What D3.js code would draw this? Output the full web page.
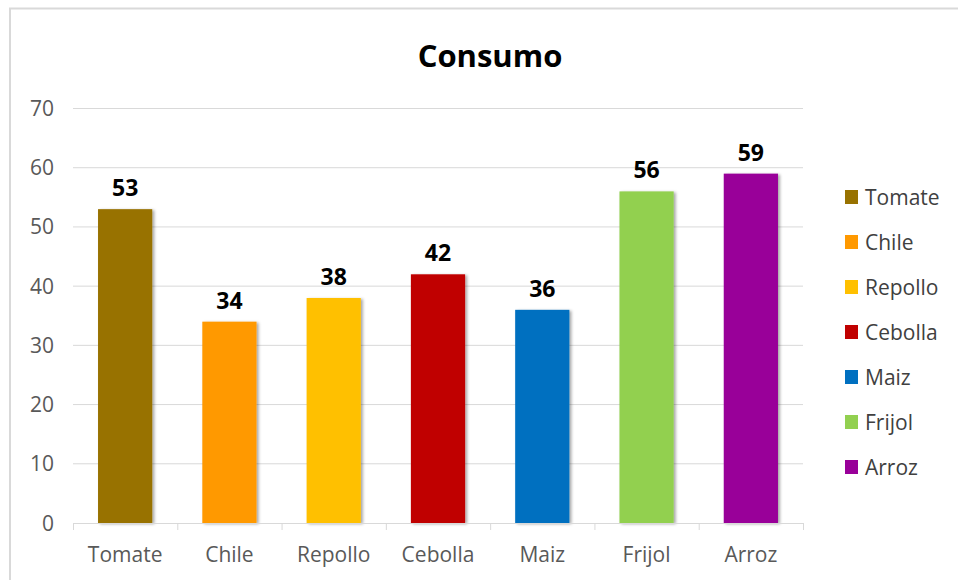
<!DOCTYPE html>
<html><head><meta charset="utf-8">
<script src="https://cdn.jsdelivr.net/npm/d3@7"></script>
<style>body{margin:0;background:#fff;}svg{display:block;}</style>
</head><body><svg id="c" width="958" height="580"></svg>
<script>
const categories = ["Tomate","Chile","Repollo","Cebolla","Maiz","Frijol","Arroz"];
const values = [53,34,38,42,36,56,59];
const colors = ["#987200","#FF9900","#FFC000","#C00000","#0070C0","#92D050","#990099"];
const yTicks = [0,10,20,30,40,50,60,70];
const title = "Consumo";

const svg = d3.select("#c");
const font = "'Open Sans', sans-serif";
const defs = svg.append("defs");
const f = defs.append("filter").attr("id","sh").attr("x","-20%").attr("y","-10%").attr("width","150%").attr("height","130%");
f.append("feDropShadow").attr("dx",2).attr("dy",1).attr("stdDeviation",1.5).attr("flood-color","#000").attr("flood-opacity",0.35);

// border
svg.append("rect").attr("x",10).attr("y",8.5).attr("width",960).attr("height",600)
  .attr("fill","#fff").attr("stroke","#d9d9d9").attr("stroke-width",2);

const x = d3.scaleBand().domain(categories).range([73,803]).paddingInner(0.48).paddingOuter(0.24);
const y = d3.scaleLinear().domain([0,70]).range([523,108.5]);

// gridlines
svg.append("g").selectAll("line").data(yTicks.slice(1)).join("line")
  .attr("x1",73).attr("x2",803).attr("y1",d=>y(d)).attr("y2",d=>y(d))
  .attr("stroke","#d9d9d9").attr("stroke-width",1);

// y labels
svg.append("g").selectAll("text").data(yTicks).join("text")
  .attr("x",54).attr("y",d=>y(d)).attr("dy","0.36em").attr("text-anchor","end")
  .attr("font-family",font).attr("font-size",21).attr("fill","#595959").text(d=>d);

// bars
svg.append("g").selectAll("rect").data(values).join("rect")
  .attr("x",(d,i)=>x(categories[i])).attr("width",x.bandwidth())
  .attr("y",d=>y(d)).attr("height",d=>y(0)-y(d))
  .attr("fill",(d,i)=>colors[i]).attr("filter","url(#sh)");

// x axis
const step = (803-73)/categories.length;
svg.append("line").attr("x1",73).attr("x2",803).attr("y1",523.5).attr("y2",523.5).attr("stroke","#d9d9d9");
svg.append("g").selectAll("line").data(d3.range(categories.length+1)).join("line")
  .attr("x1",i=>73.5+i*step).attr("x2",i=>73.5+i*step).attr("y1",523).attr("y2",530)
  .attr("stroke","#d9d9d9");
svg.append("g").selectAll("text").data(categories).join("text")
  .attr("x",d=>x(d)+x.bandwidth()/2).attr("y",562).attr("text-anchor","middle")
  .attr("font-family",font).attr("font-size",21).attr("fill","#595959").text(d=>d);

// value labels
svg.append("g").selectAll("text").data(values).join("text")
  .attr("x",(d,i)=>x(categories[i])+x.bandwidth()/2).attr("y",d=>y(d)-13)
  .attr("text-anchor","middle").attr("font-family",font).attr("font-size",23)
  .attr("font-weight","bold").attr("fill","#000").text(d=>d);

// title
svg.append("text").attr("x",490).attr("y",67).attr("text-anchor","middle")
  .attr("font-family",font).attr("font-size",31).attr("font-weight","bold").attr("fill","#000").text(title);

// legend
const lg = svg.append("g").selectAll("g").data(categories).join("g")
  .attr("transform",(d,i)=>`translate(845,${197+i*45})`);
lg.append("rect").attr("x",0).attr("y",-7).attr("width",13).attr("height",14).attr("fill",(d,i)=>colors[i]);
lg.append("text").attr("x",20).attr("y",0).attr("dy","0.36em").attr("font-family",font)
  .attr("font-size",21).attr("fill","#404040").text(d=>d);
</script></body></html>
